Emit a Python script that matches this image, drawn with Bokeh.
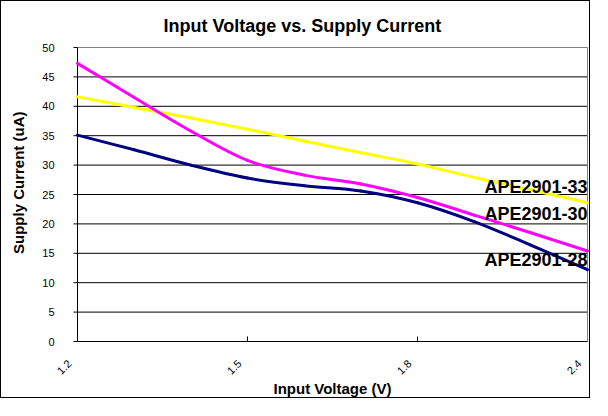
import math
from bokeh.plotting import figure
from bokeh.models import Range1d, ColumnDataSource
from bokeh.core.properties import value
from bokeh.embed import file_html
from bokeh.resources import INLINE

# ---- data ----
categories = ["1.2", "1.3", "1.4", "1.5", "1.6", "1.7", "1.8", "2.0", "2.2", "2.4"]
shown_labels = ["1.2", "1.5", "1.8", "2.4"]
ape2901_33 = [41.6, 39.8, 38.0, 36.1, 34.1, 32.1, 30.2, 27.9, 25.8, 23.6]
ape2901_30 = [47.3, 41.5, 35.8, 30.8, 28.3, 26.8, 24.5, 21.5, 18.5, 15.4]
ape2901_28 = [35.1, 32.6, 30.0, 27.8, 26.5, 25.6, 23.6, 20.4, 16.4, 12.2]
series_names = ["APE2901-33", "APE2901-30", "APE2901-28"]
y_ticks = [0, 5, 10, 15, 20, 25, 30, 35, 40, 45, 50]
y_tick_labels = [str(t) for t in y_ticks]

# ---- layout (pixels) ----
FONT = "Liberation Sans"
W, H = 590, 398
TOP = 38                      # frame starts below the title
PT = 8                        # plot-area top, measured from frame top
PL, PR = 76, 586              # plot area left/right inside the frame
PB = PT + 294                 # y=0 line, measured from frame top
frame_h = H - TOP

xs = list(range(len(categories)))
X0, X1 = xs[0], xs[-1]
Y_MIN, Y_MAX = y_ticks[0], y_ticks[-1]
pxx = (PR - PL) / (X1 - X0)
pxy = (PB - PT) / (Y_MAX - Y_MIN)
x_range = Range1d(X0 - PL / pxx, X1 + (W - PR) / pxx)
y_range = Range1d(Y_MIN - (frame_h - PB) / pxy, Y_MAX + PT / pxy)

p = figure(width=W, height=H, output_backend="svg", toolbar_location=None,
           x_range=x_range, y_range=y_range, x_axis_type=None, y_axis_type=None,
           min_border_left=0, min_border_right=0, min_border_top=TOP, min_border_bottom=0,
           title="Input Voltage vs. Supply Current")
p.styles = {"border": "1px solid #000000"}
p.background_fill_color = "white"
p.border_fill_color = "white"
p.outline_line_color = None
p.xgrid.visible = False
p.ygrid.visible = False

p.title.text_font = FONT
p.title.text_font_size = "18px"
p.title.text_font_style = "bold"
p.title.text_color = "black"
p.title.align = "left"
p.title.offset = 162
p.title.standoff = 8

# horizontal gridlines
inner = y_ticks[1:-1]
p.segment(x0=[X0] * len(inner), y0=inner, x1=[X1] * len(inner), y1=inner,
          line_color="black", line_width=1)
# grey plot-area border (top, right)
p.segment(x0=[X0, X1], y0=[Y_MAX, Y_MIN], x1=[X1, X1], y1=[Y_MAX, Y_MAX],
          line_color="#808080", line_width=1)
# axis lines (left, bottom)
p.segment(x0=[X0, X0], y0=[Y_MIN, Y_MIN], x1=[X0, X1], y1=[Y_MAX, Y_MIN],
          line_color="black", line_width=1)

# y ticks (outward) and labels
p.ray(x=[X0] * len(y_ticks), y=y_ticks, length=4, length_units="screen", angle=math.pi,
      line_color="black", line_width=1)
p.text(x=[X0] * len(y_ticks), y=y_ticks, text=y_tick_labels, x_offset=-23,
       text_align="right", text_baseline="middle",
       text_font=value(FONT), text_font_size="11px", text_color="black")
p.text(x=[X0], y=[27.0], text=["Supply Current (uA)"], angle=math.pi / 2, x_offset=-59,
       text_align="center", text_baseline="middle",
       text_font=value(FONT), text_font_size="15px", text_font_style="bold", text_color="black")

# x ticks (inward) and rotated category labels
tick_idx = [categories.index(l) for l in shown_labels]
inner_ticks = [i for i in tick_idx if X0 < i < X1]
p.ray(x=inner_ticks, y=[Y_MIN] * len(inner_ticks), length=5, length_units="screen",
      angle=math.pi / 2, line_color="black", line_width=1)
p.text(x=tick_idx, y=[Y_MIN] * len(tick_idx), text=shown_labels, angle=math.pi / 4,
       x_offset=-8, y_offset=20, text_align="right", text_baseline="middle",
       text_font=value(FONT), text_font_size="11px", text_color="black")
p.text(x=[(X0 + X1) / 2], y=[Y_MIN], text=["Input Voltage (V)"], y_offset=47,
       text_align="center", text_baseline="middle",
       text_font=value(FONT), text_font_size="15px", text_font_style="bold", text_color="black")


def smooth_segments(xv, yv):
    """Cubic Bezier pieces through the data points (Catmull-Rom style smoothing)."""
    n = len(xv)
    seg = dict(x0=[], y0=[], x1=[], y1=[], cx0=[], cy0=[], cx1=[], cy1=[])
    for i in range(n - 1):
        xp, yp = (xv[i - 1], yv[i - 1]) if i > 0 else (xv[i], yv[i])
        xn, yn = (xv[i + 2], yv[i + 2]) if i + 2 < n else (xv[i + 1], yv[i + 1])
        seg["x0"].append(xv[i]); seg["y0"].append(yv[i])
        seg["x1"].append(xv[i + 1]); seg["y1"].append(yv[i + 1])
        seg["cx0"].append(xv[i] + (xv[i + 1] - xp) / 6)
        seg["cy0"].append(yv[i] + (yv[i + 1] - yp) / 6)
        seg["cx1"].append(xv[i + 1] - (xn - xv[i]) / 6)
        seg["cy1"].append(yv[i + 1] - (yn - yv[i]) / 6)
    return ColumnDataSource(seg)


colors = ["#FFFF00", "#FF00FF", "#000080"]
series = [ape2901_33, ape2901_30, ape2901_28]
for vals, col in zip(series, colors):
    p.bezier(x0="x0", y0="y0", x1="x1", y1="y1", cx0="cx0", cy0="cy0",
             cx1="cx1", cy1="cy1", source=smooth_segments(xs, vals),
             line_color=col, line_width=3, line_cap="round")

# series name labels at the right end
series_label_y = [26.2, 21.6, 13.8]
p.text(x=[X1] * 3, y=series_label_y, text=series_names,
       text_font=value(FONT), text_font_size="18px", text_font_style="bold",
       text_color="black", text_align="right", text_baseline="middle")

open("out.html", "w").write(file_html(p, INLINE))
